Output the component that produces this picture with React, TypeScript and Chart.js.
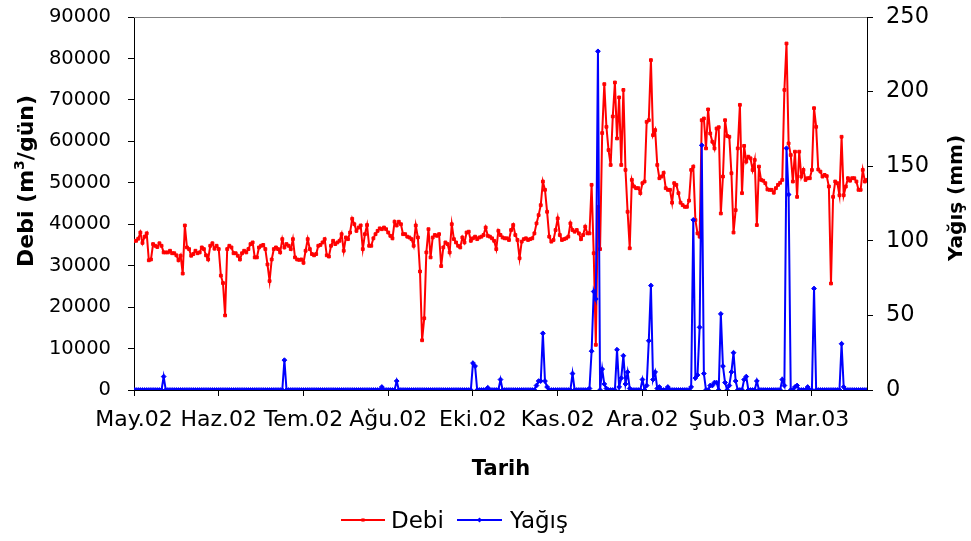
import { useEffect, useRef } from "react";
import { Chart, registerables } from "chart.js";

Chart.register(...registerables);

// Day offsets (from 1 May 2002) where the date axis is labelled
const tickDays = [0, 40, 80, 120, 160, 200, 240, 280, 320];
const tickLabels = ["May.02", "Haz.02", "Tem.02", "Ağu.02", "Eki.02", "Kas.02", "Ara.02", "Şub.03", "Mar.03"];

// Daily discharge (m³/gün)
const debi = [
  36000, 36000, 36500, 38000, 35500, 37000, 37800, 31300, 31500, 35200,
  34800, 34500, 35400, 34800, 33200, 33200, 33200, 33600, 33000, 33000,
  32500, 31300, 32400, 28100, 39700, 34400, 34000, 32400, 32800, 33600,
  33000, 33200, 34400, 34000, 32500, 31500, 34800, 35400, 34100, 34800,
  34000, 27600, 25800, 18000, 34000, 34800, 34400, 33000, 33000, 32400,
  31500, 33000, 33600, 33200, 34000, 35200, 35600, 32000, 32000, 34400,
  34800, 35000, 34000, 30300, 26300, 31500, 34000, 34400, 34000, 33200,
  36400, 34400, 35200, 34800, 34000, 36400, 32000, 31500, 31400, 31500,
  30700, 33600, 36400, 34000, 32800, 32500, 32800, 34800, 35000, 35600,
  36400, 32500, 32200, 34800, 36000, 35200, 35600, 36000, 37600, 33600,
  36800, 36400, 38000, 41300, 40000, 38400, 39200, 39700, 34000, 37600,
  39800, 34800, 34800, 36600, 37600, 38400, 39000, 38800, 39200, 38800,
  38000, 37200, 36600, 40600, 39700, 40600, 40000, 37600, 37600, 37000,
  36800, 36400, 34800, 39700, 36800, 28600, 12000, 17300, 33200, 38800,
  32000, 36800, 37400, 37200, 37600, 29900, 34400, 35600, 35200, 33200,
  40000, 36400, 35600, 34800, 34400, 36800, 35600, 38000, 38200, 36000,
  36600, 37000, 36400, 36800, 37000, 37400, 39200, 37200, 37000, 36600,
  36000, 34000, 38400, 37400, 36800, 36600, 36600, 36200, 38600, 39800,
  37400, 36200, 31800, 35800, 36400, 36600, 36200, 36400, 36600, 37800,
  40200, 42200, 44600, 50300, 48300, 43000, 37000, 35800, 36200, 38600,
  41400, 37400, 36200, 36400, 36600, 37000, 40200, 38600, 38200, 38600,
  37800, 36400, 37400, 39400, 37800, 37800, 49500, 33000, 10900, 44200,
  34000, 62000, 73800, 63500, 57900, 54300, 66000, 74200, 60700, 70600,
  54300, 72400, 53100, 43000, 34200, 50700, 49100, 48700, 48700, 47500,
  49900, 50300, 64700, 65100, 79600, 61500, 62700, 54300, 51100, 51500,
  52400, 48700, 48300, 48300, 45200, 49900, 49500, 47500, 45200, 44600,
  44200, 44200, 45700, 53100, 53900, 41000, 37800, 37000, 65100, 65500,
  58300, 67700, 61900, 59900, 58300, 63100, 63400, 42600, 51500, 65100,
  61300, 61100, 52300, 38000, 43400, 58300, 68800, 47500, 58900, 55100,
  56300, 55900, 53100, 55500, 39800, 53900, 50700, 50500, 49900, 48400,
  48300, 48300, 47600, 48700, 49500, 50000, 50700, 72400, 83600, 59500,
  56700, 50300, 57500, 46600, 57500, 51500, 53100, 50700, 51100, 51100,
  53100, 68000, 63500, 53200, 52700, 51500, 51900, 51600, 49100, 25700,
  46600, 50300, 49900, 47000, 61100, 47000, 49100, 51100, 50500, 51100,
  51100, 50300, 48300, 48300, 53100, 50300, 50700,
];

// Daily precipitation (mm)
const yagis = [
  0, 0, 0, 0, 0, 0, 0, 0, 0, 0,
  0, 0, 0, 0, 9, 0, 0, 0, 0, 0,
  0, 0, 0, 0, 0, 0, 0, 0, 0, 0,
  0, 0, 0, 0, 0, 0, 0, 0, 0, 0,
  0, 0, 0, 0, 0, 0, 0, 0, 0, 0,
  0, 0, 0, 0, 0, 0, 0, 0, 0, 0,
  0, 0, 0, 0, 0, 0, 0, 0, 0, 0,
  0, 20, 0, 0, 0, 0, 0, 0, 0, 0,
  0, 0, 0, 0, 0, 0, 0, 0, 0, 0,
  0, 0, 0, 0, 0, 0, 0, 0, 0, 0,
  0, 0, 0, 0, 0, 0, 0, 0, 0, 0,
  0, 0, 0, 0, 0, 0, 0, 2, 0, 0,
  0, 0, 0, 0, 6, 0, 0, 0, 0, 0,
  0, 0, 0, 0, 0, 0, 0, 0, 0, 0,
  0, 0, 0, 0, 0, 0, 0, 0, 0, 0,
  0, 0, 0, 0, 0, 0, 0, 0, 0, 0,
  18, 16, 0, 0, 0, 0, 0, 1.5, 0, 0,
  0, 0, 0, 7, 0, 0, 0, 0, 0, 0,
  0, 0, 0, 0, 0, 0, 0, 0, 0, 0,
  3, 6, 6, 38, 6, 2, 0, 0, 0, 0,
  0, 0, 0, 0, 0, 0, 0, 11, 0, 0,
  0, 0, 0, 0, 0, 1, 26, 66, 61, 227,
  0, 14, 4, 1, 0, 0, 0, 0, 27, 2,
  8, 23, 4, 12, 1, 0, 0, 0, 0, 0,
  7, 0, 3, 33, 70, 7, 12, 1, 2, 0,
  0, 0, 2, 0, 0, 0, 0, 0, 0, 0,
  0, 0, 0, 2, 114, 8, 10, 42, 164, 11,
  0, 0, 3, 3, 5, 5, 0, 51, 16, 5,
  0, 3, 12, 25, 6, 0, 0, 0, 7, 9,
  0, 0, 0, 0, 6, 0, 0, 0, 0, 0,
  0, 0, 0, 0, 0, 0, 7, 3, 162, 131,
  0, 0, 2, 3, 0, 0, 0, 0, 2, 0,
  0, 68, 0, 0, 0, 0, 0, 0, 0, 0,
  0, 0, 0, 0, 31, 2, 0, 0, 0, 0,
  0, 0, 0, 0, 0, 0, 0,
];

const FONT = "'DejaVu Sans', sans-serif";
const RED = "#FF0000";
const BLUE = "#0000FF";

type Part = { text: string; size: number; dy: number };

function drawVerticalTitle(ctx: CanvasRenderingContext2D, parts: Part[], cx: number, cy: number) {
  ctx.save();
  ctx.translate(cx, cy);
  ctx.rotate(-Math.PI / 2);
  ctx.fillStyle = "#000";
  ctx.textBaseline = "alphabetic";
  ctx.textAlign = "left";
  const widths = parts.map((p) => {
    ctx.font = `bold ${p.size}px ${FONT}`;
    return ctx.measureText(p.text).width;
  });
  let x = -widths.reduce((s, w) => s + w, 0) / 2;
  parts.forEach((p, i) => {
    ctx.font = `bold ${p.size}px ${FONT}`;
    ctx.fillText(p.text, x, p.dy);
    x += widths[i];
  });
  ctx.restore();
}

const decorations = {
  id: "decorations",
  beforeDatasetsDraw(chart: any) {
    const { ctx, chartArea: a } = chart;
    ctx.save();
    ctx.strokeStyle = "#808080";
    ctx.lineWidth = 1;
    ctx.beginPath();
    ctx.moveTo(a.left, Math.round(a.top) + 0.5);
    ctx.lineTo(a.right, Math.round(a.top) + 0.5);
    ctx.stroke();
    ctx.restore();
  },
  afterDraw(chart: any) {
    const ctx: CanvasRenderingContext2D = chart.ctx;
    // axis titles
    drawVerticalTitle(
      ctx,
      [
        { text: "Debi (m", size: 22, dy: 0 },
        { text: "3", size: 14, dy: -9 },
        { text: "/gün)", size: 22, dy: 0 },
      ],
      33,
      181
    );
    drawVerticalTitle(ctx, [{ text: "Yağış (mm)", size: 20, dy: 0 }], 962, 198);

    ctx.save();
    ctx.fillStyle = "#000";
    ctx.font = `bold 21px ${FONT}`;
    ctx.textAlign = "center";
    ctx.textBaseline = "alphabetic";
    ctx.fillText("Tarih", 501, 475);

    // legend
    const ly = 520;
    const items = [
      { label: "Debi", color: RED, x0: 341, x1: 385, tx: 391, style: "rect" },
      { label: "Yağış", color: BLUE, x0: 457, x1: 502, tx: 510, style: "rectRot" },
    ];
    ctx.font = `23px ${FONT}`;
    ctx.textAlign = "left";
    for (const it of items) {
      ctx.strokeStyle = it.color;
      ctx.fillStyle = it.color;
      ctx.lineWidth = 2;
      ctx.beginPath();
      ctx.moveTo(it.x0, ly);
      ctx.lineTo(it.x1, ly);
      ctx.stroke();
      const mx = (it.x0 + it.x1) / 2;
      ctx.beginPath();
      if (it.style === "rect") {
        ctx.rect(mx - 1.6, ly - 1.6, 3.2, 3.2);
      } else {
        ctx.moveTo(mx - 2.6, ly);
        ctx.lineTo(mx, ly - 2.6);
        ctx.lineTo(mx + 2.6, ly);
        ctx.lineTo(mx, ly + 2.6);
        ctx.closePath();
      }
      ctx.fill();
      ctx.fillStyle = "#000";
      ctx.fillText(it.label, it.tx, 528);
    }
    ctx.restore();
  },
};

export default function App() {
  const canvasRef = useRef<HTMLCanvasElement | null>(null);

  useEffect(() => {
    document.body.style.margin = "0";
    const canvas = canvasRef.current;
    if (!canvas) return;

    const axisGrid = { drawOnChartArea: false, color: "#000", tickLength: 6, tickWidth: 1 };
    const axisBorder = { color: "#000", width: 1 };

    // fixed axis boxes so the plot area sits at a known place
    const fixWidth = (w: number) => (s: any) => {
      s.width = w;
      s.paddingTop = 0;
      s.paddingBottom = 0;
    };

    const chart = new Chart(canvas, {
      type: "line",
      data: {
        datasets: [
          {
            label: "Debi",
            data: debi.map((v, i) => ({ x: i, y: v })),
            yAxisID: "y",
            borderColor: RED,
            backgroundColor: RED,
            borderWidth: 2,
            pointStyle: "rect",
            pointRadius: 2,
            pointBorderWidth: 1,
            pointHoverRadius: 2,
            tension: 0,
            order: 1,
          },
          {
            label: "Yağış",
            data: yagis.map((v, i) => ({ x: i, y: v })),
            yAxisID: "y1",
            borderColor: BLUE,
            backgroundColor: BLUE,
            borderWidth: 2,
            pointStyle: "rectRot",
            pointRadius: 2.4,
            pointBorderWidth: 1,
            pointHoverRadius: 2.4,
            tension: 0,
            order: 0,
          },
        ],
      },
      options: {
        animation: false,
        responsive: true,
        maintainAspectRatio: false,
        devicePixelRatio: 1,
        layout: { padding: { top: 17, left: 0, right: 0, bottom: 0 } },
        plugins: {
          legend: { display: false },
          tooltip: { enabled: false },
          title: { display: false },
        },
        scales: {
          x: {
            type: "linear",
            min: 0,
            max: debi.length - 1,
            afterBuildTicks: (s: any) => {
              s.ticks = tickDays.map((v) => ({ value: v }));
            },
            afterFit: (s: any) => {
              s.height = 151;
              s.paddingLeft = 0;
              s.paddingRight = 0;
            },
            grid: axisGrid,
            border: axisBorder,
            ticks: {
              autoSkip: false,
              maxRotation: 0,
              minRotation: 0,
              padding: 11,
              color: "#000",
              font: { family: FONT, size: 22 },
              callback: (v: any) => {
                const k = tickDays.indexOf(Number(v));
                return k >= 0 ? tickLabels[k] : "";
              },
            },
          },
          y: {
            type: "linear",
            position: "left",
            min: 0,
            max: 90000,
            afterFit: fixWidth(134),
            grid: axisGrid,
            border: axisBorder,
            ticks: {
              stepSize: 10000,
              padding: 17,
              color: "#000",
              font: { family: FONT, size: 19.5 },
              callback: (v: any) => String(v),
            },
          },
          y1: {
            type: "linear",
            position: "right",
            min: 0,
            max: 250,
            afterFit: fixWidth(104),
            grid: axisGrid,
            border: axisBorder,
            ticks: {
              stepSize: 50,
              padding: 13,
              color: "#000",
              font: { family: FONT, size: 22.5 },
              callback: (v: any) => String(v),
            },
          },
        },
      },
      plugins: [decorations],
    });

    return () => chart.destroy();
  }, []);

  return (
    <div style={{ position: "fixed", left: 0, top: 0, width: 971, height: 541, background: "#fff" }}>
      <canvas ref={canvasRef} style={{ display: "block" }} />
    </div>
  );
}
